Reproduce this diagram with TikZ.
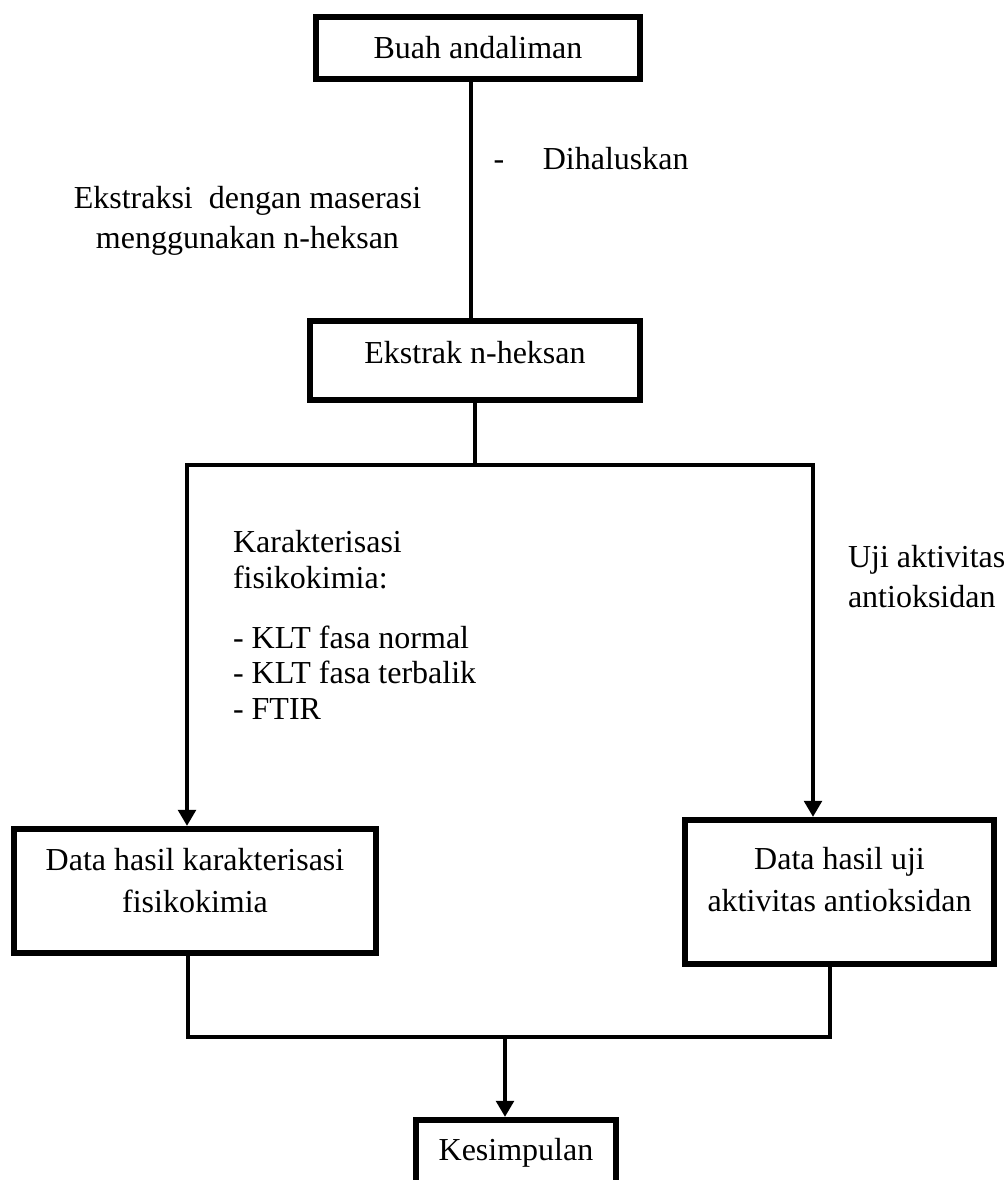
\documentclass[tikz,border=0pt]{standalone}
\usepackage{fontspec}
\setmainfont{Liberation Serif}
\usetikzlibrary{arrows.meta}
\begin{document}
\begin{tikzpicture}[x=0.375pt, y=-0.375pt, line join=miter, >={Triangle[length=6pt,width=6.5pt]},
	box/.style={draw, line width=2.3pt, inner sep=0pt, align=flush center, font=\fontsize{12pt}{15pt}\selectfont},
	note/.style={inner sep=0pt, font=\fontsize{12pt}{15pt}\selectfont},
	link/.style={line width=1.5pt}]
		\useasboundingbox (0,0) rectangle (1006,1180);
		\clip (0,0) rectangle (1006,1180);
		\node[box, minimum width=121.5pt, minimum height=23.25pt] (buah) at (478,48) {Buah andaliman};
		\node[box, minimum width=123.75pt, minimum height=29.6pt, text depth=6.4pt] (ekstrak) at (475,360.5) {Ekstrak n-heksan};
		\node[box, text width=128pt, minimum width=135.75pt, minimum height=46.5pt, text depth=24pt,
			font=\fontsize{12pt}{15.75pt}\selectfont] (datakar) at (195,891) {Data hasil karakterisasi\\fisikokimia};
		\node[box, text width=110pt, minimum width=115.9pt, minimum height=54pt, text depth=25.5pt,
			font=\fontsize{12pt}{16pt}\selectfont] (datauji) at (839.5,892) {Data hasil uji\\aktivitas antioksidan};
		\node[box, minimum width=75pt, minimum height=30pt, text depth=8.25pt] (kes) at (516,1160) {Kesimpulan};
		\node[note, anchor=base west] (halus) at (493,169) {-\hspace{14.5pt}Dihaluskan};
		\node[note, anchor=north, align=center] (maserasi) at (247.5,186) {Ekstraksi~ dengan maserasi\\menggunakan n-heksan};
		\node[note, anchor=north west, align=left, font=\fontsize{12pt}{13.3pt}\selectfont] (karak) at (232.5,530)
			{Karakterisasi\\fisikokimia:\\[9.2pt]- KLT fasa normal\\- KLT fasa terbalik\\- FTIR};
		\node[note, anchor=north west, align=left] (uji) at (847.5,545) {Uji aktivitas\\antioksidan};
		\coordinate (stem) at (470.5,0);
		\coordinate (sL) at (187,465);
		\coordinate (sR) at (813,465);
		\coordinate (jL) at (188,1037);
		\coordinate (jR) at (830,1037);
		\coordinate (jM) at (505,1037);
		\draw[link] (buah.south -| stem) -- (ekstrak.north -| stem);
		\draw[link] (ekstrak.south) -- (ekstrak.south |- sL);
		\draw[link, <->] (datakar.north -| sL) -- (sL) -- (sR) -- (datauji.north -| sR);
		\draw[link] (datakar.south -| jL) |- (jR) -- (datauji.south -| jR);
		\draw[link, ->] (jM) -- (kes.north -| jM);
	\end{tikzpicture}
\end{document}
